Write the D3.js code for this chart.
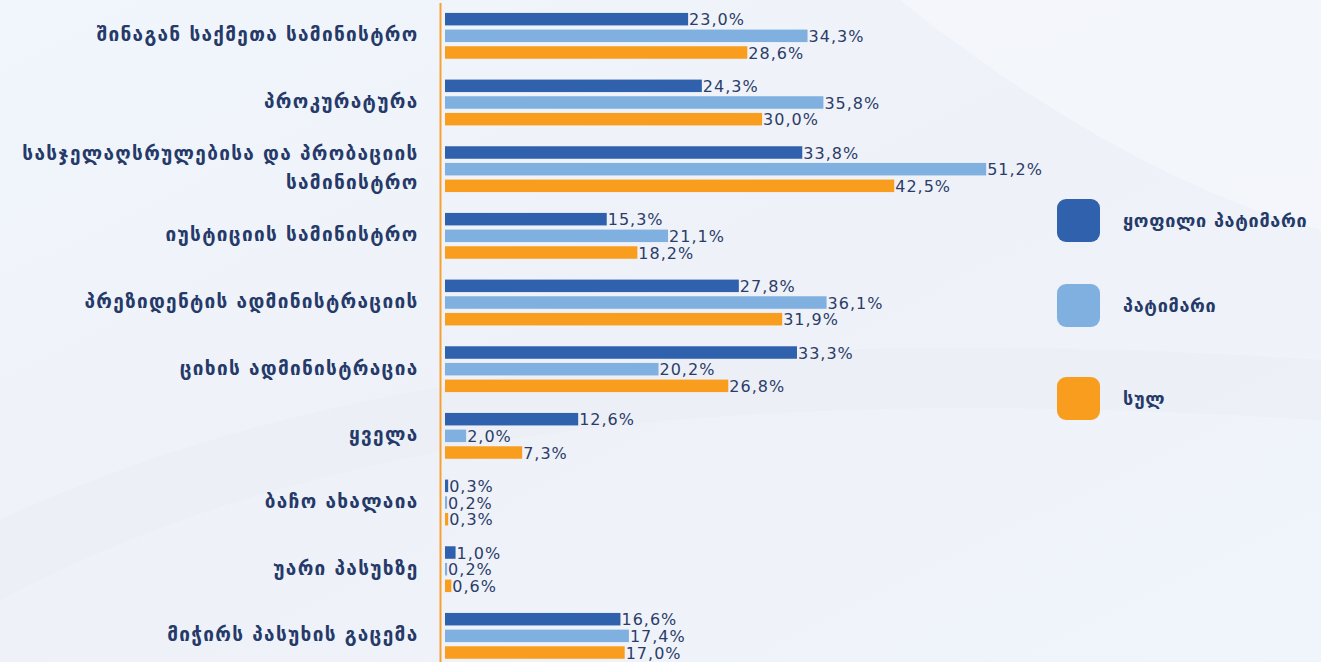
<!DOCTYPE html>
<html><head><meta charset="utf-8">
<script src="https://cdn.jsdelivr.net/npm/d3@7"></script>
<style>
html,body{margin:0;padding:0;overflow:hidden;}
svg{display:block;}
</style></head>
<body>
<svg id="chart" width="1321" height="662"></svg>
<script>
const categories = [
  ["შინაგან საქმეთა სამინისტრო"],
  ["პროკურატურა"],
  ["სასჯელაღსრულებისა და პრობაციის", "სამინისტრო"],
  ["იუსტიციის სამინისტრო"],
  ["პრეზიდენტის ადმინისტრაციის"],
  ["ციხის ადმინისტრაცია"],
  ["ყველა"],
  ["ბაჩო ახალაია"],
  ["უარი პასუხზე"],
  ["მიჭირს პასუხის გაცემა"]
];
const seriesNames = ["ყოფილი პატიმარი", "პატიმარი", "სულ"];
const formerPrisoner = [23.0, 24.3, 33.8, 15.3, 27.8, 33.3, 12.6, 0.3, 1.0, 16.6];
const prisoner       = [34.3, 35.8, 51.2, 21.1, 36.1, 20.2, 2.0, 0.2, 0.2, 17.4];
const total          = [28.6, 30.0, 42.5, 18.2, 31.9, 26.8, 7.3, 0.3, 0.6, 17.0];
const colors = ["#3061ad", "#80b0e0", "#f99d1e"];

const W = 1321, H = 662;
const svg = d3.select("#chart");
const defs = svg.append("defs");
const bg = defs.append("linearGradient").attr("id","bg").attr("x1","0").attr("y1","0").attr("x2","1").attr("y2","1");
bg.append("stop").attr("offset","0").attr("stop-color","#f1f6fc");
bg.append("stop").attr("offset","0.5").attr("stop-color","#eef2f8");
bg.append("stop").attr("offset","1").attr("stop-color","#f0f5fb");
svg.append("rect").attr("width",W).attr("height",H).attr("fill","url(#bg)");
// subtle swooshes
svg.append("path").attr("d","M0,520 C300,380 700,320 1321,360 L1321,420 C700,380 300,440 0,600 Z").attr("fill","#e9edf4").attr("opacity",0.5);
svg.append("path").attr("d","M900,0 C1050,120 1200,200 1321,230 L1321,0 Z").attr("fill","#f6f9fd").attr("opacity",0.6);

const data = categories.map((c,i)=>({cat:i, label:c, vals:[formerPrisoner[i], prisoner[i], total[i]]}));

const x = d3.scaleLinear().domain([0, 10]).range([445, 445 + 105.7]);
const y0 = d3.scaleBand().domain(d3.range(categories.length)).range([2.5, 2.5 + 66.67*10]).paddingInner(0);
const y1 = d3.scaleBand().domain(d3.range(3)).range([8.33, 58.33]).paddingInner(0.25).paddingOuter(0.125);

const g = svg.append("g");
const groups = g.selectAll("g.grp").data(data).enter().append("g")
  .attr("transform", d => `translate(0,${y0(d.cat)})`);

groups.selectAll("rect").data(d => d.vals.map((v,k)=>({v,k}))).enter().append("rect")
  .attr("x", x(0))
  .attr("y", d => y1(d.k))
  .attr("width", d => x(d.v) - x(0))
  .attr("height", y1.bandwidth())
  .attr("fill", d => colors[d.k]);

const fmt = v => v.toFixed(1).replace(".", ",") + "%";
groups.selectAll("text.val").data(d => d.vals.map((v,k)=>({v,k}))).enter().append("text")
  .attr("class","val")
  .attr("x", d => x(d.v) + 1)
  .attr("y", d => y1(d.k) + y1.bandwidth()/2 + 0.5)
  .attr("dy","0.36em")
  .attr("font-family","DejaVu Sans, sans-serif")
  .attr("font-size", 16)
  .attr("letter-spacing", 1)
  .attr("fill","#2c3c69")
  .text(d => fmt(d.v));

// category labels
groups.each(function(d){
  const t = d3.select(this).append("text")
    .attr("text-anchor","end")
    .attr("font-family","DejaVu Sans, sans-serif")
    .attr("font-weight","bold")
    .attr("font-size", 19)
    .attr("letter-spacing", 1.3)
    .attr("fill","#263a6a");
  const n = d.label.length;
  const cy = 33.3;
  d.label.forEach((line, j) => {
    t.append("tspan").attr("x", 418.5)
      .attr("y", cy + (j - (n-1)/2) * 29 - 1)
      .attr("dy", "0.35em")
      .text(line);
  });
});

// axis line
svg.append("line").attr("x1",440.5).attr("x2",440.5).attr("y1",3).attr("y2",H)
  .attr("stroke","#f7a133").attr("stroke-width",2);

// legend
const legY = [199, 284, 377];
const leg = svg.append("g");
seriesNames.forEach((s,i)=>{
  leg.append("rect").attr("x",1057).attr("y",legY[i]).attr("width",43).attr("height",43)
    .attr("rx",9).attr("fill",colors[i]);
  leg.append("text").attr("x",1123).attr("y",legY[i]+21.5).attr("dy","0.35em")
    .attr("font-family","DejaVu Sans, sans-serif").attr("font-weight","bold")
    .attr("font-size",18).attr("letter-spacing",0.7).attr("fill","#263a6a").text(s);
});
</script>
</body></html>
